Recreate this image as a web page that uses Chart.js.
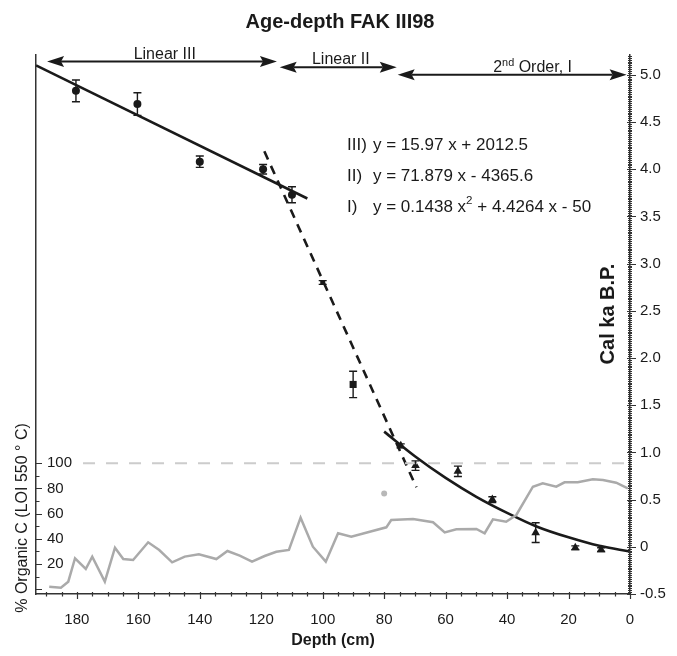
<!DOCTYPE html>
<html><head><meta charset="utf-8">
<script src="https://cdn.jsdelivr.net/npm/chart.js@4.4.1/dist/chart.umd.min.js"></script>
<style>html,body{margin:0;padding:0;background:#fff;overflow:hidden}</style>
</head><body>
<canvas id="c" width="677" height="656"></canvas>
<script>
// ---------- DATA ----------
// Dated samples (depth cm, age ka BP, 1-sigma error ka)
const depthIII = [180.3, 160.3, 140.0, 119.4, 110.0];
const ageIII   = [4.83, 4.69, 4.08, 4.00, 3.73];
const errIII   = [0.115, 0.12, 0.06, 0.05, 0.085];

const depthII  = [100.0, 90.1];
const ageII    = [2.80, 1.72];
const errII    = [0.02, 0.14];

const depthI   = [74.6, 69.8, 56.0, 44.8, 30.7, 17.8, 9.4];
const ageI     = [1.07, 0.86, 0.80, 0.50, 0.15, -0.01, -0.03];
const errI     = [0.02, 0.05, 0.055, 0.03, 0.105, 0.02, 0.02];

// Fitted age models
const fitIIIDepth = [193.3, 105.0];
const fitIIIAge   = [5.10, 3.69];
const fitIIDepth  = [119.0, 69.5];
const fitIIAge    = [4.19, 0.63];
const fitIDepth   = [80, 70, 60, 50, 40, 30, 20, 10, 0];
const fitIAge     = [1.22, 0.96, 0.73, 0.53, 0.36, 0.21, 0.10, 0.01, -0.05];

// Organic carbon (% LOI 550 °C)
const depthC = [189.0,185.2,182.8,180.6,177.1,175.0,170.9,167.6,164.9,161.7,156.8,153.2,149.0,144.9,140.3,134.6,131.0,127.0,123.0,118.9,115.1,111.0,107.2,103.2,99.0,95.0,90.7,84.7,79.3,77.7,70.6,64.1,60.3,56.5,50.0,47.3,44.6,40.3,37.0,31.6,28.4,24.0,21.3,17.0,12.1,8.8,4.5,0.7];
const pctC   = [1.9,1.1,5.9,24.5,16.0,25.8,5.9,32.9,23.9,23.1,37.2,31.1,21.3,25.8,27.7,23.9,30.3,26.6,21.8,26.3,29.7,31.1,56.8,33.7,21.8,44.4,41.7,45.6,49.1,54.9,55.7,53.1,45.1,47.5,47.8,44.4,55.5,53.6,58.9,81.4,84.1,81.4,84.9,84.9,87.3,86.7,84.6,80.1];
const refDepth = [178, 0];
const refPct   = [100, 100];
const grayPtDepth = [80];
const grayPtPct   = [76];

// Zone arrows along the top
const zoneLabels = ['Linear III', 'Linear II', '2nd Order, I'];
const zoneFrom   = [189.7, 114.0, 75.6];
const zoneTo     = [114.9, 75.9, 1.1];
const zoneAge    = [5.14, 5.08, 5.00];
const zoneLabelDepth = [151.4, 94.1, 31.7];

// Equations
const eqPrefix = ['III)', 'II)', 'I)'];
const eqBody   = ['y = 15.97 x + 2012.5', 'y = 71.879 x - 4365.6', 'y = 0.1438 x^2 + 4.4264 x - 50'];

// Tick labels
const depthTicks = [0, 20, 40, 60, 80, 100, 120, 140, 160, 180];
const ageTicks   = [-0.5, 0, 0.5, 1.0, 1.5, 2.0, 2.5, 3.0, 3.5, 4.0, 4.5, 5.0];
const pctTicks   = [20, 40, 60, 80, 100];

// ---------- CHART ----------
const FONT = "'Liberation Sans', Arial, Helvetica, sans-serif";
const pts = (xs, ys) => xs.map((x, i) => ({x: x, y: ys[i]}));
const INK = '#1a1a1a';

function drawRich(ctx, parts, x, y, size) {
  let cx = x;
  parts.forEach(p => {
    if (p.sup) {
      ctx.font = (size * 0.68) + 'px ' + FONT;
      ctx.fillText(p.t, cx, y - size * 0.38);
    } else {
      ctx.font = size + 'px ' + FONT;
      ctx.fillText(p.t, cx, y);
    }
    cx += ctx.measureText(p.t).width;
  });
  return cx - x;
}
function richParts(s) {
  const out = [];
  const re = /\^(\w+)/g; let last = 0, m;
  while ((m = re.exec(s))) { out.push({t: s.slice(last, m.index)}); out.push({t: m[1], sup: true}); last = re.lastIndex; }
  out.push({t: s.slice(last)});
  return out;
}
function measureRich(ctx, parts, size) {
  let w = 0;
  parts.forEach(p => { ctx.font = (p.sup ? size * 0.68 : size) + 'px ' + FONT; w += ctx.measureText(p.t).width; });
  return w;
}

const annot = {
  id: 'annot',
  afterDatasetsDraw(chart) {
    const ctx = chart.ctx, yR = chart.scales.yR;
    ctx.save();
    ctx.strokeStyle = INK; ctx.lineWidth = 1.4;
    chart.data.datasets.forEach((ds, di) => {
      if (!ds.errors) return;
      const meta = chart.getDatasetMeta(di);
      meta.data.forEach((el, i) => {
        const e = ds.errors[i], v = ds.data[i].y;
        const y1 = yR.getPixelForValue(v + e), y2 = yR.getPixelForValue(v - e);
        ctx.beginPath();
        ctx.moveTo(el.x, y1); ctx.lineTo(el.x, y2);
        ctx.moveTo(el.x - 4, y1); ctx.lineTo(el.x + 4, y1);
        ctx.moveTo(el.x - 4, y2); ctx.lineTo(el.x + 4, y2);
        ctx.stroke();
      });
    });
    ctx.restore();
  },
  afterDraw(chart) {
    const ctx = chart.ctx, ca = chart.chartArea;
    const x = chart.scales.x, yL = chart.scales.yL, yR = chart.scales.yR;
    ctx.save();
    // ---- axis tick marks ----
    ctx.strokeStyle = '#333'; ctx.lineWidth = 1.2;
    ctx.beginPath();
    for (let v = 0; v <= 190; v += 5) {
      const px = Math.round(x.getPixelForValue(v)) + 0.5;
      const major = v % 20 === 0;
      ctx.moveTo(px, ca.bottom - 2); ctx.lineTo(px, ca.bottom + (major ? 5 : 2.5));
    }
    for (let v = 0; v <= 100; v += 10) {
      const py = Math.round(yL.getPixelForValue(v)) + 0.5;
      ctx.moveTo(ca.left, py); ctx.lineTo(ca.left + (v % 20 === 0 ? 6 : 3.5), py);
    }
    for (let k = -25; k <= 260; k++) {
      const v = k * 0.02;
      if (v > yR.max) break;
      const py = Math.round(yR.getPixelForValue(v)) + 0.5;
      const major = k % 25 === 0;
      ctx.moveTo(ca.right - (major ? 3 : 2), py); ctx.lineTo(ca.right + (major ? 6 : 2), py);
    }
    ctx.stroke();

    // ---- zone arrows ----
    ctx.fillStyle = INK; ctx.strokeStyle = INK;
    const L = 17, H = 5.5;
    zoneLabels.forEach((lab, i) => {
      const x1 = x.getPixelForValue(zoneFrom[i]), x2 = x.getPixelForValue(zoneTo[i]);
      const y = yR.getPixelForValue(zoneAge[i]);
      ctx.lineWidth = 2;
      ctx.beginPath(); ctx.moveTo(x1 + L - 3, y); ctx.lineTo(x2 - L + 3, y); ctx.stroke();
      ctx.beginPath(); ctx.moveTo(x1, y); ctx.lineTo(x1 + L, y - H); ctx.lineTo(x1 + L - 3, y); ctx.lineTo(x1 + L, y + H); ctx.closePath(); ctx.fill();
      ctx.beginPath(); ctx.moveTo(x2, y); ctx.lineTo(x2 - L, y - H); ctx.lineTo(x2 - L + 3, y); ctx.lineTo(x2 - L, y + H); ctx.closePath(); ctx.fill();
      const cx = x.getPixelForValue(zoneLabelDepth[i]);
      ctx.textBaseline = 'alphabetic'; ctx.textAlign = 'left';
      let parts;
      if (lab.startsWith('2nd')) parts = [{t: '2'}, {t: 'nd', sup: true}, {t: lab.slice(3)}];
      else parts = [{t: lab}];
      const w = measureRich(ctx, parts, 16);
      drawRich(ctx, parts, cx - w / 2, y - 3, 16);
    });

    // ---- equations ----
    ctx.textBaseline = 'middle'; ctx.textAlign = 'left';
    const eqY = [145, 176, 207];
    eqPrefix.forEach((p, i) => {
      ctx.font = '17px ' + FONT;
      ctx.fillText(p, 347, eqY[i]);
      drawRich(ctx, richParts(eqBody[i]), 373, eqY[i], 17);
    });

    // ---- titles ----
    ctx.textAlign = 'center'; ctx.textBaseline = 'middle';
    ctx.font = 'bold 20px ' + FONT;
    ctx.fillText('Age-depth FAK III98', 340, 22);
    ctx.font = 'bold 16px ' + FONT;
    ctx.fillText('Depth (cm)', 333, 641);

    ctx.save();
    ctx.translate(608, 314); ctx.rotate(-Math.PI / 2);
    ctx.font = 'bold 20px ' + FONT;
    ctx.fillText('Cal ka B.P.', 0, 0);
    ctx.restore();

    ctx.save();
    ctx.translate(23, 518); ctx.rotate(-Math.PI / 2);
    ctx.font = '16px ' + FONT;
    ctx.fillText('% Organic C (LOI 550 \u00B0 C)', 0, 0);
    ctx.restore();

    ctx.restore();
  }
};

const tickFont = {family: FONT, size: 15};
new Chart(document.getElementById('c'), {
  type: 'scatter',
  data: {
    datasets: [
      {data: pts(depthC, pctC), yAxisID: 'yL', showLine: true, borderColor: '#aaaaaa', borderWidth: 2.5, pointRadius: 0, fill: false},
      {data: pts(refDepth, refPct), yAxisID: 'yL', showLine: true, borderColor: '#cccccc', borderWidth: 2, borderDash: [12, 11], pointRadius: 0},
      {data: pts(grayPtDepth, grayPtPct), yAxisID: 'yL', pointRadius: 3, pointBackgroundColor: '#b8b8b8', pointBorderWidth: 0},
      {data: pts(fitIIIDepth, fitIIIAge), yAxisID: 'yR', showLine: true, borderColor: INK, borderWidth: 2.6, pointRadius: 0},
      {data: pts(fitIIDepth, fitIIAge), yAxisID: 'yR', showLine: true, borderColor: INK, borderWidth: 2.6, borderDash: [9, 7], pointRadius: 0},
      {data: pts(fitIDepth, fitIAge), yAxisID: 'yR', showLine: true, borderColor: INK, borderWidth: 2.6, pointRadius: 0, cubicInterpolationMode: 'monotone'},
      {data: pts(depthIII, ageIII), errors: errIII, yAxisID: 'yR', pointStyle: 'circle', pointRadius: 4, pointBackgroundColor: INK, pointBorderWidth: 0},
      {data: pts(depthII, ageII), errors: errII, yAxisID: 'yR', pointStyle: 'rect', pointRadius: [3.5, 5], pointBackgroundColor: INK, pointBorderWidth: 0},
      {data: pts(depthI, ageI), errors: errI, yAxisID: 'yR', pointStyle: 'triangle', pointRadius: 5, pointBackgroundColor: INK, pointBorderWidth: 0}
    ]
  },
  options: {
    responsive: false, animation: false, devicePixelRatio: 1,
    layout: {padding: {top: 55, left: 0, right: 0, bottom: 0}},
    plugins: {legend: {display: false}, tooltip: {enabled: false}, title: {display: false}},
    events: [],
    scales: {
      x: {
        type: 'linear', position: 'bottom', reverse: true, min: 0, max: 193.3,
        grid: {display: false, drawTicks: false},
        border: {display: true, color: '#333', width: 1.5},
        ticks: {font: tickFont, color: INK, padding: 17, maxRotation: 0, autoSkip: false},
        afterBuildTicks: s => { s.ticks = depthTicks.map(v => ({value: v})); },
        afterFit: s => { s.height = 62; }
      },
      yL: {
        type: 'linear', position: 'left', min: -3.9, max: 424.6,
        grid: {display: false, drawTicks: false},
        border: {display: true, color: '#333', width: 1.5},
        ticks: {font: tickFont, color: INK, mirror: true, padding: 11, autoSkip: false},
        afterBuildTicks: s => { s.ticks = pctTicks.map(v => ({value: v})); },
        afterFit: s => { s.width = 36; }
      },
      yR: {
        type: 'linear', position: 'right', min: -0.5, max: 5.21,
        grid: {display: false, drawTicks: false},
        border: {display: true, color: '#333', width: 1.5},
        ticks: {font: tickFont, color: INK, padding: 10, autoSkip: false,
                callback: v => v === 0 ? '0' : v.toFixed(1)},
        afterBuildTicks: s => { s.ticks = ageTicks.map(v => ({value: v})); },
        afterFit: s => { s.width = 47; }
      }
    }
  },
  plugins: [annot]
});
</script>
</body></html>
